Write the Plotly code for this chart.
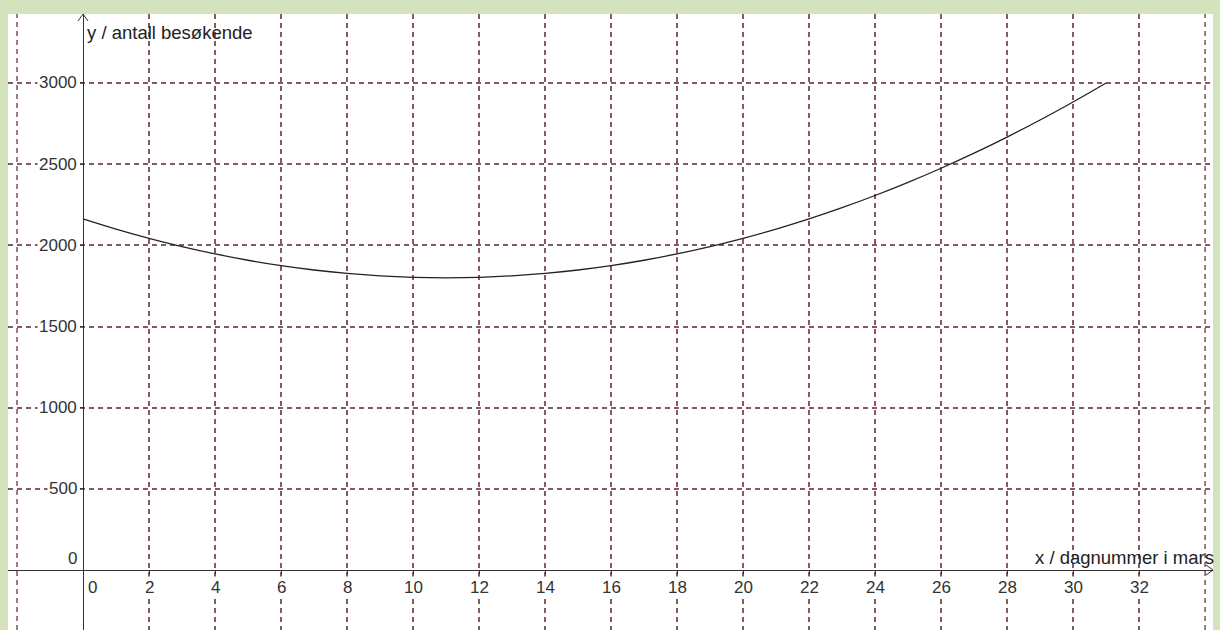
import plotly.graph_objects as go

# Data
day = list(range(0, 32))
visitors = [2163, 2100, 2043, 1992, 1947, 1908, 1875, 1848, 1827, 1812, 1803, 1800,
            1803, 1812, 1827, 1848, 1875, 1908, 1947, 1992, 2043, 2100, 2163, 2232,
            2307, 2388, 2475, 2568, 2667, 2772, 2883, 3000]
x_ticks = [2, 4, 6, 8, 10, 12, 14, 16, 18, 20, 22, 24, 26, 28, 30, 32]
y_ticks = [500, 1000, 1500, 2000, 2500, 3000]
x_title = "x / dagnummer i mars"
y_title = "y / antall besøkende"

XMIN, XMAX = -2.273, 34.24
YMIN, YMAX = -369.6, 3425
GRID = "#855c5e"
GW = 1.6
FONT = "Liberation Sans, Arial, sans-serif"
FS = 17
FT = 18.5
TXT = "#333333"

fig = go.Figure()
fig.add_trace(go.Scatter(x=day, y=visitors, mode="lines", line=dict(color="#222222", width=1.3, shape="spline"),
                         hoverinfo="skip", showlegend=False))

fig.update_layout(
    width=1220, height=630,
    margin=dict(l=8, r=7, t=14, b=0, autoexpand=False),
    paper_bgcolor="#d5e3bc",
    plot_bgcolor="#ffffff",
    font=dict(family=FONT, size=FS, color=TXT),
    showlegend=False,
    xaxis=dict(range=[XMIN, XMAX], tickvals=x_ticks, showticklabels=False,
               showgrid=True, gridcolor=GRID, griddash="5px,4px", gridwidth=GW,
               zeroline=False, showline=True, linecolor="#333333", linewidth=1,
               anchor="free", position=(0 - YMIN) / (YMAX - YMIN), automargin=False,
               ticks="outside", ticklen=3, tickcolor="#333333"),
    yaxis=dict(range=[YMIN, YMAX], tickvals=y_ticks, showticklabels=False,
               showgrid=True, gridcolor=GRID, griddash="5px,4px", gridwidth=GW,
               zeroline=False, showline=True, linecolor="#333333", linewidth=1,
               anchor="free", position=(0 - XMIN) / (XMAX - XMIN), automargin=False,
               ticks="outside", ticklen=3, tickcolor="#333333"),
)

for gx in [-2, 34]:
    fig.add_vline(x=gx, line=dict(color=GRID, width=GW, dash="5px,4px"), layer="below")

# tick labels with white background (over the grid), as in the reference
for v in x_ticks:
    fig.add_annotation(x=v, y=0, xref="x", yref="y", text=str(v), showarrow=False,
                       xanchor="center", yanchor="top", yshift=-6, bgcolor="#ffffff",
                       borderpad=1, font=dict(size=FS, color=TXT))
for v in y_ticks:
    fig.add_annotation(x=0, y=v, xref="x", yref="y", text=str(v), showarrow=False,
                       xanchor="right", yanchor="middle", xshift=-4, bgcolor="#ffffff",
                       borderpad=1, font=dict(size=FS, color=TXT))

# origin labels
fig.add_annotation(x=0, y=0, xref="x", yref="y", text="0", showarrow=False,
                   xanchor="left", yanchor="top", xshift=3, yshift=-6, bgcolor="#ffffff",
                   font=dict(size=FS, color=TXT))
fig.add_annotation(x=0, y=0, xref="x", yref="y", text="0", showarrow=False,
                   xanchor="right", yanchor="bottom", xshift=-4, yshift=0, bgcolor="#ffffff",
                   font=dict(size=FS, color=TXT))

# axis titles
fig.add_annotation(x=0, y=1, xref="x", yref="paper", text=y_title, showarrow=False,
                   xanchor="left", yanchor="top", xshift=2, yshift=-6, font=dict(size=FT, color="#222222"))
fig.add_annotation(x=1, y=0, xref="paper", yref="y", text=x_title, showarrow=False,
                   xanchor="right", yanchor="bottom", xshift=3, yshift=0, font=dict(size=FT, color="#222222"))

# arrowheads
fig.add_shape(type="path", xref="x", yref="paper", xsizemode="pixel", ysizemode="pixel",
              xanchor=0, yanchor=1, path="M -5,-7 L 0,0 L 5,-7",
              line=dict(color="#333333", width=1))
fig.add_shape(type="path", xref="paper", yref="y", xsizemode="pixel", ysizemode="pixel",
              xanchor=1, yanchor=0, path="M -7,5 L 0,0 L -7,-5",
              line=dict(color="#333333", width=1))

fig.write_html("out.html", config={"displayModeBar": False},
               post_script="document.body.style.margin='0';document.body.style.overflow='hidden';")
